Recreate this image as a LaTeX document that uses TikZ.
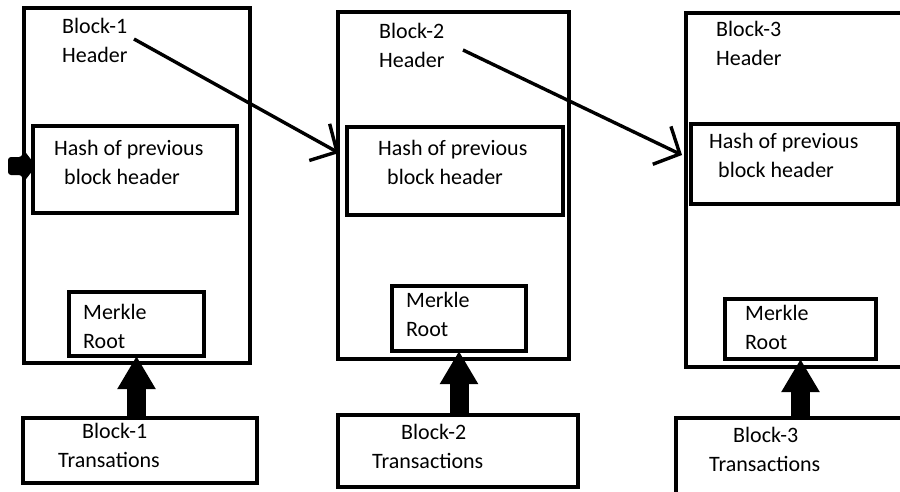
\documentclass[tikz,border=0pt]{standalone}
\usepackage{fontspec}
\setmainfont{Carlito}
\usetikzlibrary{arrows.meta}

\begin{document}
\begin{tikzpicture}[x=1pt, y=-1pt,
  box/.style={draw, line width=3.6pt, inner sep=0pt, outer sep=0pt, anchor=north west},
  lbl/.style={align=left, anchor=base west, inner sep=0pt, font=\fontsize{22}{29}\selectfont},
  link/.style={line width=3.4pt, -{Straight Barb[length=20pt,width=42pt]}},
  feed/.style={line width=19pt, -{Triangle[length=33pt,width=36pt]}}]
  \useasboundingbox (0,0) rectangle (900,491);
  % block frames
  \node[box, minimum width=226pt, minimum height=355pt] (blk1) at (24,8) {};
  \node[box, minimum width=231pt, minimum height=347pt] (blk2) at (338,12) {};
  \node[box, minimum width=240pt, minimum height=354pt] (blk3) at (686,13) {};
  % hash boxes
  \node[box, minimum width=204pt, minimum height=87pt] (hash1) at (33,126) {};
  \node[box, minimum width=216pt, minimum height=88pt] (hash2) at (347,127) {};
  \node[box, minimum width=207pt, minimum height=80pt] (hash3) at (691,124) {};
  % merkle boxes
  \node[box, minimum width=135pt, minimum height=64pt] (merk1) at (69,292) {};
  \node[box, minimum width=134pt, minimum height=65pt] (merk2) at (392,286) {};
  \node[box, minimum width=151pt, minimum height=60pt] (merk3) at (725,299) {};
  % transaction boxes
  \node[box, minimum width=234pt, minimum height=65pt] (trans1) at (23,418) {};
  \node[box, minimum width=240pt, minimum height=72pt] (trans2) at (338,415) {};
  \node[box, minimum width=260pt, minimum height=90pt] (trans3) at (676,418) {};

  % labels (anchored at the last line)
  \node[lbl] (hdr1) at (62,62) {Block-1\\Header};
  \node[lbl] (hdr2) at (379,67) {Block-2\\Header};
  \node[lbl] (hdr3) at (716,65) {Block-3\\Header};
  \node[lbl] (htxt1) at (54,184) {Hash of previous\\\hspace*{10pt}block header};
  \node[lbl] (htxt2) at (378,184) {Hash of previous\\\hspace*{9pt}block header};
  \node[lbl] (htxt3) at (709,177) {Hash of previous\\\hspace*{9pt}block header};
  \node[lbl] (mtxt1) at (83,348) {Merkle\\Root};
  \node[lbl] (mtxt2) at (406,336) {Merkle\\Root};
  \node[lbl] (mtxt3) at (745,349) {Merkle\\Root};
  \node[lbl] (ttxt1) at (58,467) {\hspace*{24pt}Block-1\\Transations};
  \node[lbl] (ttxt2) at (372,468) {\hspace*{29pt}Block-2\\Transactions};
  \node[lbl] (ttxt3) at (709,471) {\hspace*{24pt}Block-3\\Transactions};

  % header to next block
  \coordinate (s1) at (134,39);
  \coordinate (t1) at (339,153);
  \coordinate (s2) at (463,50);
  \coordinate (t2) at (682,155);
  \draw[link] (s1) -- (t1);
  \draw[link] (s2) -- (t2);

  % transactions up to merkle root
  \draw[feed] (merk1.south |- trans1.north) -- (merk1.south);
  \draw[feed] (merk2.south |- trans2.north) -- (merk2.south);
  \draw[feed] (merk3.south |- trans3.north) -- (merk3.south);

  % stub coming into block 1
  \fill[rounded corners=3pt] (8,157) -- (22,157) -- (23,149) -- (33,162)
    -- (33,170) -- (23,183) -- (22,175) -- (8,175) -- cycle;
\end{tikzpicture}
\end{document}
